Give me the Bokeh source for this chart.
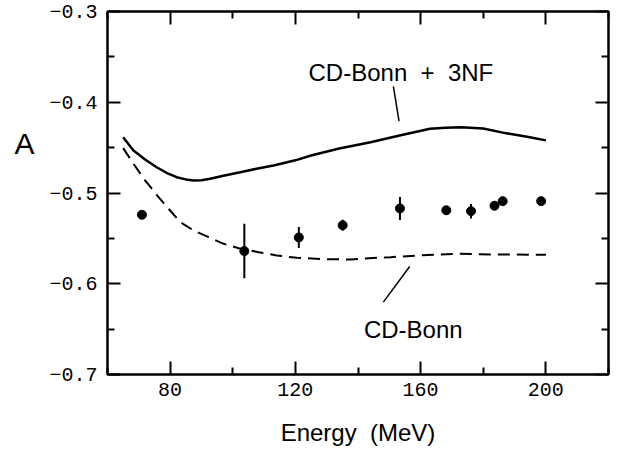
from bokeh.plotting import figure
from bokeh.models import (FixedTicker, LinearAxis, Label, CustomJSTickFormatter,
                          Range1d, ColumnDataSource)
from bokeh.embed import file_html
from bokeh.resources import INLINE

# measured analyzing power data
energy = [71.0, 103.7, 121.1, 135.1, 153.4, 168.2, 176.1, 183.6, 186.2, 198.5]
asym = [-0.524, -0.564, -0.549, -0.5355, -0.517, -0.519, -0.520, -0.514, -0.509, -0.509]
asym_err = [0.0, 0.030, 0.0116, 0.006, 0.0127, 0.0, 0.008, 0.0, 0.0, 0.0]

# CD-Bonn + 3NF prediction (solid)
e_3nf = [65, 68.3, 72, 75.7, 79, 82.1, 85, 87.5, 90, 92.8, 97, 102.4, 108, 113, 120, 125,
         134, 144, 154, 163, 168, 173, 180, 187, 194, 200]
a_3nf = [-0.4385, -0.4532, -0.463, -0.4716, -0.478, -0.4826, -0.485, -0.4862, -0.486, -0.4843,
         -0.481, -0.4771, -0.473, -0.4697, -0.464, -0.4587, -0.451, -0.444, -0.436, -0.4293,
         -0.428, -0.4275, -0.429, -0.434, -0.438, -0.442]

# CD-Bonn prediction (dashed)
e_cdb = [65, 68.3, 72, 76.3, 80, 83.2, 87.5, 92.3, 97.1, 101.9, 108.3, 114.1, 120.5, 129.1,
         137.6, 146.1, 150.4, 159, 171.7, 184.5, 200]
a_cdb = [-0.4506, -0.4678, -0.486, -0.5046, -0.5193, -0.532, -0.5413, -0.5487, -0.556, -0.5608,
         -0.5652, -0.5689, -0.5714, -0.5729, -0.5733, -0.5714, -0.5707, -0.5689, -0.567, -0.5678,
         -0.568]

# ticks
x_major = [80, 120, 160, 200]
x_minor = [60, 100, 140, 180, 220]
y_major = [-0.7, -0.6, -0.5, -0.4, -0.3]
y_minor = [-0.65, -0.55, -0.45, -0.35]

NB = "\u00a0"
label_3nf = "CD-Bonn" + NB + NB + "+" + NB + NB + "3NF"
label_cdb = "CD-Bonn"
x_title = "Energy" + NB + NB + "(MeV)"
y_title = "A"
y_title_at = -0.4455

# annotation anchors (data coordinates)
lab3nf_xy = (124.2, -0.3672)
labcdb_xy = (141.9, -0.6508)
lead3nf = ([151.3], [-0.3826], [153.1], [-0.4208])
leadcdb = ([156.5], [-0.5810], [148.1], [-0.6203])

p = figure(width=618, height=453, x_range=Range1d(60, 220), y_range=Range1d(-0.7, -0.3),
           output_backend="svg", toolbar_location=None,
           min_border_left=107, min_border_right=10, min_border_top=11, min_border_bottom=79)
p.background_fill_color = "white"
p.border_fill_color = "white"
p.outline_line_color = "black"
p.outline_line_width = 2
p.xgrid.grid_line_color = None
p.ygrid.grid_line_color = None

tick_font = "Liberation Mono"
yfmt = CustomJSTickFormatter(code="return (tick < 0 ? '\u2212' : '') + Math.abs(tick).toFixed(1);")
blank = CustomJSTickFormatter(code="return '';")


def style_axis(ax, labels=True):
    ax.axis_line_color = "black"
    ax.axis_line_width = 2
    ax.major_tick_in = 13
    ax.major_tick_out = 0
    ax.minor_tick_in = 7
    ax.minor_tick_out = 0
    ax.major_tick_line_width = 2
    ax.minor_tick_line_width = 2
    ax.major_tick_line_color = "black"
    ax.minor_tick_line_color = "black"
    ax.major_label_text_font = tick_font
    ax.major_label_text_font_size = "20px"
    ax.major_label_text_color = "black"
    if not labels:
        ax.major_label_standoff = 0
        ax.major_label_text_font_size = "1px"


p.xaxis.ticker = FixedTicker(ticks=x_major, minor_ticks=x_minor)
p.yaxis.ticker = FixedTicker(ticks=y_major, minor_ticks=y_minor)
p.yaxis.formatter = yfmt
style_axis(p.xaxis[0])
style_axis(p.yaxis[0])
p.xaxis.major_label_standoff = 8
p.yaxis.major_label_standoff = 10
p.xaxis.axis_label = x_title
p.xaxis.axis_label_text_font = "Liberation Sans"
p.xaxis.axis_label_text_font_size = "24px"
p.xaxis.axis_label_text_font_style = "normal"
p.xaxis.axis_label_text_color = "black"
p.xaxis.axis_label_standoff = 20

top = LinearAxis(ticker=FixedTicker(ticks=x_major, minor_ticks=x_minor), formatter=blank)
right = LinearAxis(ticker=FixedTicker(ticks=y_major, minor_ticks=y_minor), formatter=blank)
style_axis(top, labels=False)
style_axis(right, labels=False)
p.add_layout(top, "above")
p.add_layout(right, "right")

# outer left axis carrying the horizontal "A" title
a_axis = LinearAxis(ticker=FixedTicker(ticks=[y_title_at], minor_ticks=[]),
                    formatter=CustomJSTickFormatter(code="return '%s';" % y_title))
a_axis.axis_line_color = None
a_axis.major_tick_line_color = None
a_axis.minor_tick_line_color = None
a_axis.major_tick_in = 0
a_axis.major_tick_out = 0
a_axis.minor_tick_in = 0
a_axis.minor_tick_out = 0
a_axis.major_label_text_font = "Liberation Sans"
a_axis.major_label_text_font_size = "30px"
a_axis.major_label_text_color = "black"
a_axis.major_label_standoff = 12
p.add_layout(a_axis, "left")

# curves
p.line(e_3nf, a_3nf, line_color="black", line_width=2.5)
p.line(e_cdb, a_cdb, line_color="black", line_width=2, line_dash="12 7")

# data with error bars
src = ColumnDataSource(dict(
    x=energy, y=asym,
    lo=[a - e for a, e in zip(asym, asym_err)],
    hi=[a + e for a, e in zip(asym, asym_err)],
))
p.segment(x0="x", y0="lo", x1="x", y1="hi", source=src, line_color="black", line_width=2)
p.scatter(x="x", y="y", source=src, size=9, marker="circle", fill_color="black", line_color="black")

# leader lines
p.segment(x0=lead3nf[0], y0=lead3nf[1], x1=lead3nf[2], y1=lead3nf[3], line_color="black", line_width=1.5)
p.segment(x0=leadcdb[0], y0=leadcdb[1], x1=leadcdb[2], y1=leadcdb[3], line_color="black", line_width=1.5)

for txt, (lx, ly) in ((label_3nf, lab3nf_xy), (label_cdb, labcdb_xy)):
    p.add_layout(Label(x=lx, y=ly, text=txt, text_font="Liberation Sans", text_font_size="24px",
                       text_color="black", text_align="left", text_baseline="alphabetic"))

with open("out.html", "w", encoding="utf-8") as f:
    f.write(file_html(p, INLINE))
